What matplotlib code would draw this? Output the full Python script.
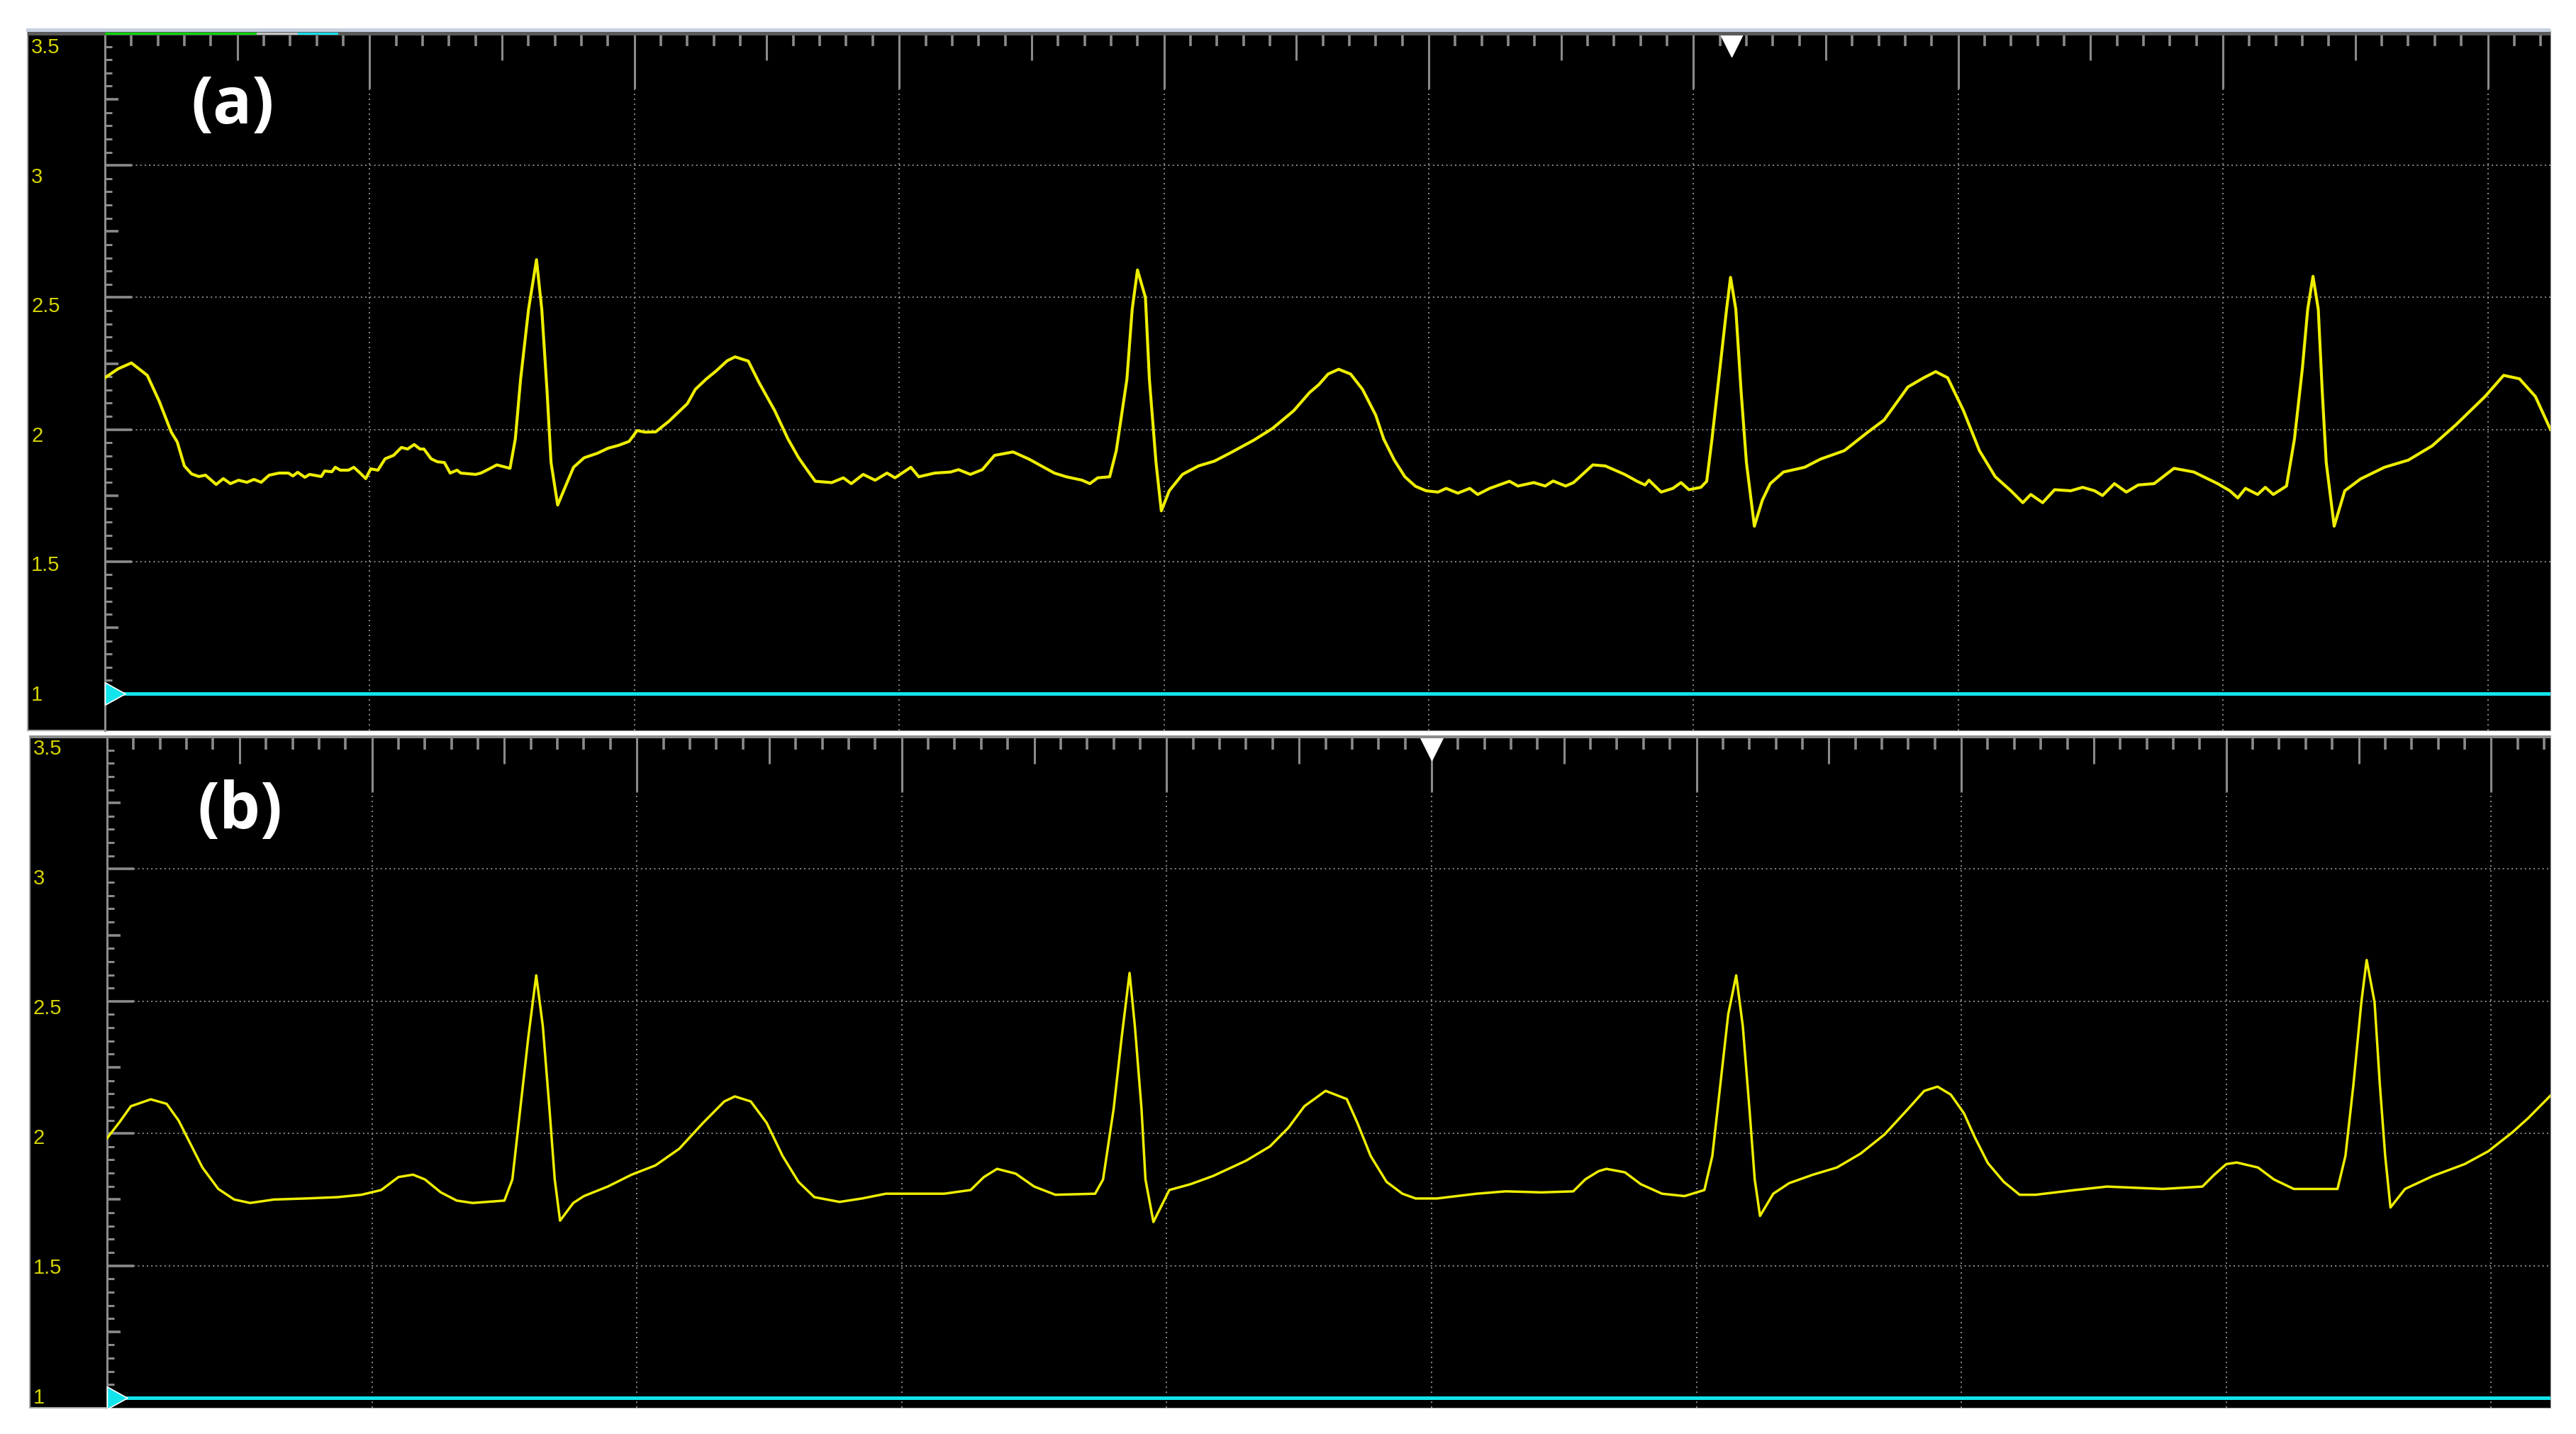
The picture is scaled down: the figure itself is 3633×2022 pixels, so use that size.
import numpy as np
import matplotlib
matplotlib.use("Agg")
import matplotlib.pyplot as plt
from matplotlib.patches import Rectangle
from matplotlib.transforms import blended_transform_factory

W, H = 3633, 2022

# x in screen divisions, y in volts
a_t = [0.00, 0.05, 0.10, 0.16, 0.205, 0.25,
       0.273, 0.30, 0.327, 0.354, 0.38, 0.42, 0.447, 0.474, 0.505, 0.536, 0.563, 0.59, 0.62, 0.657, 0.693, 0.71,
       0.728, 0.755, 0.773, 0.817, 0.83, 0.857, 0.87, 0.889, 0.92, 0.94, 0.964, 0.985, 1.004, 1.031, 1.058, 1.09,
       1.12, 1.143, 1.168, 1.19, 1.205, 1.232, 1.255, 1.282, 1.304, 1.33, 1.344,
       1.40, 1.42, 1.45, 1.48, 1.53, 1.55, 1.57, 1.60, 1.63, 1.65, 1.67, 1.685, 1.71, 1.74, 1.77, 1.81, 1.86,
       1.90, 1.94, 1.98, 2.01, 2.04, 2.08, 2.13, 2.20, 2.23, 2.27, 2.31, 2.35, 2.38, 2.43, 2.47, 2.53, 2.58,
       2.62, 2.65,
       2.683, 2.745, 2.789, 2.819, 2.864, 2.909, 2.954, 2.984, 3.044, 3.074, 3.134, 3.194, 3.224, 3.269, 3.314,
       3.36, 3.43, 3.49, 3.586, 3.631, 3.691, 3.72, 3.75, 3.795,
       3.82, 3.86, 3.88, 3.90, 3.93, 3.945, 3.97, 3.99, 4.02, 4.07, 4.13, 4.19, 4.25, 4.34, 4.41, 4.49, 4.55,
       4.585, 4.62, 4.66, 4.705, 4.75, 4.80, 4.83, 4.87, 4.91, 4.95,
       4.99, 5.035, 5.066, 5.11, 5.155, 5.185, 5.23, 5.305, 5.337, 5.397, 5.44, 5.47, 5.517, 5.547, 5.62, 5.667,
       5.74, 5.787, 5.817, 5.832, 5.878, 5.922, 5.953, 5.983, 6.028, 6.05,
       6.07, 6.10, 6.125, 6.14, 6.16, 6.18, 6.20, 6.23, 6.26, 6.29, 6.34, 6.42, 6.48, 6.57, 6.66, 6.72, 6.81,
       6.87, 6.915, 6.96, 7.02, 7.08, 7.14,
       7.199, 7.244, 7.274, 7.319, 7.364, 7.425, 7.47, 7.515, 7.545, 7.59, 7.635, 7.68, 7.74, 7.815, 7.89, 7.98,
       8.026, 8.056, 8.085, 8.131, 8.16, 8.19, 8.24,
       8.27, 8.30, 8.32, 8.34, 8.36, 8.375, 8.39, 8.42, 8.46, 8.52, 8.61, 8.70, 8.79, 8.88, 8.99, 9.06, 9.12,
       9.18, 9.237]
a_v = [2.196, 2.23, 2.252, 2.205, 2.107, 1.991,
       1.953, 1.862, 1.832, 1.822, 1.827, 1.792, 1.814, 1.795, 1.808, 1.80, 1.811, 1.80, 1.827, 1.835, 1.835, 1.824,
       1.838, 1.819, 1.83, 1.822, 1.843, 1.84, 1.857, 1.846, 1.846, 1.857, 1.835, 1.814, 1.851, 1.846, 1.889, 1.902,
       1.932, 1.926, 1.943, 1.926, 1.926, 1.889, 1.878, 1.875, 1.835, 1.846, 1.835,
       1.83, 1.835, 1.85, 1.866, 1.853, 1.964, 2.19, 2.455, 2.643, 2.455, 2.143, 1.875, 1.714, 1.786, 1.857, 1.893, 1.91,
       1.929, 1.94, 1.955, 1.996, 1.99, 1.991, 2.031, 2.098, 2.152, 2.19, 2.223, 2.26, 2.275, 2.259, 2.179, 2.071, 1.964,
       1.893, 1.85,
       1.804, 1.799, 1.817, 1.795, 1.83, 1.808, 1.835, 1.817, 1.857, 1.821, 1.835, 1.839, 1.848, 1.83, 1.848,
       1.902, 1.915, 1.888, 1.835, 1.821, 1.808, 1.795, 1.817, 1.821,
       1.92, 2.19, 2.455, 2.604, 2.50, 2.19, 1.875, 1.692, 1.768, 1.83, 1.862, 1.88, 1.911, 1.96, 2.004, 2.071, 2.14,
       2.17, 2.21, 2.228, 2.21, 2.152, 2.054, 1.964, 1.884, 1.821, 1.785,
       1.768, 1.763, 1.777, 1.759, 1.777, 1.754, 1.777, 1.804, 1.786, 1.799, 1.786, 1.805, 1.786, 1.799, 1.866, 1.862,
       1.83, 1.804, 1.79, 1.808, 1.763, 1.777, 1.799, 1.772, 1.781, 1.804,
       1.964, 2.232, 2.455, 2.576, 2.455, 2.143, 1.875, 1.634, 1.732, 1.795, 1.839, 1.857, 1.888, 1.92, 1.991, 2.036, 2.161,
       2.196, 2.219, 2.196, 2.071, 1.92, 1.821,
       1.768, 1.723, 1.754, 1.723, 1.772, 1.768, 1.781, 1.768, 1.75, 1.795, 1.763, 1.79, 1.795, 1.853, 1.839, 1.795,
       1.768, 1.741, 1.777, 1.754, 1.781, 1.754, 1.786,
       1.964, 2.232, 2.455, 2.58, 2.455, 2.143, 1.875, 1.634, 1.768, 1.813, 1.857, 1.884, 1.938, 2.018, 2.125, 2.205, 2.192,
       2.125, 2.0]

b_t = [0.00, 0.045, 0.09, 0.165, 0.225, 0.27, 0.315, 0.36, 0.42, 0.48, 0.54, 0.63, 0.75, 0.87, 0.96, 1.035,
       1.10, 1.155, 1.20, 1.26, 1.32, 1.38, 1.50, 1.53, 1.56, 1.59, 1.62, 1.645, 1.67, 1.69, 1.71, 1.76,
       1.80, 1.89, 1.98, 2.07, 2.16, 2.25, 2.33, 2.37, 2.43, 2.49, 2.55, 2.61, 2.67, 2.765, 2.85, 2.94,
       3.16, 3.26, 3.31, 3.36, 3.43, 3.50, 3.58, 3.73, 3.76, 3.80, 3.83, 3.86, 3.88, 3.905, 3.92, 3.95,
       4.01, 4.09, 4.175, 4.30, 4.39, 4.46, 4.52, 4.60, 4.68, 4.72, 4.77, 4.83, 4.89, 4.94, 5.02, 5.17,
       5.28, 5.415, 5.535, 5.58, 5.63, 5.66, 5.73, 5.79, 5.87, 5.955, 6.03, 6.06, 6.09, 6.12, 6.15, 6.175,
       6.20, 6.22, 6.24, 6.29, 6.35, 6.44, 6.53, 6.62, 6.71, 6.80, 6.86, 6.91, 6.96, 7.01, 7.05, 7.10,
       7.16, 7.22, 7.28, 7.43, 7.55, 7.76, 7.91, 7.955, 8.00, 8.04, 8.12, 8.18, 8.255, 8.42, 8.45, 8.48,
       8.51, 8.53, 8.56, 8.58, 8.60, 8.62, 8.675, 8.78, 8.90, 8.99, 9.08, 9.14, 9.224]
b_v = [1.982, 2.04, 2.103, 2.129, 2.112, 2.049, 1.96, 1.871, 1.79, 1.75, 1.737, 1.75, 1.754, 1.759, 1.768, 1.786,
       1.835, 1.844, 1.826, 1.777, 1.746, 1.737, 1.746, 1.826, 2.094, 2.362, 2.598, 2.406, 2.094, 1.826, 1.67, 1.737,
       1.763, 1.799, 1.844, 1.879, 1.942, 2.04, 2.121, 2.14, 2.121, 2.04, 1.915, 1.817, 1.759, 1.741, 1.754, 1.772,
       1.772, 1.786, 1.835, 1.866, 1.848, 1.799, 1.768, 1.772, 1.826, 2.094, 2.362, 2.607, 2.406, 2.094, 1.826, 1.665,
       1.786, 1.808, 1.839, 1.897, 1.951, 2.022, 2.103, 2.161, 2.13, 2.04, 1.915, 1.817, 1.772, 1.754, 1.754, 1.772,
       1.781, 1.777, 1.781, 1.826, 1.857, 1.866, 1.853, 1.808, 1.772, 1.763, 1.786, 1.915, 2.183, 2.451, 2.598, 2.406,
       2.094, 1.826, 1.688, 1.772, 1.812, 1.844, 1.871, 1.924, 1.996, 2.094, 2.161, 2.177, 2.147, 2.076, 1.987, 1.888,
       1.817, 1.768, 1.768, 1.786, 1.799, 1.79, 1.799, 1.844, 1.884, 1.89, 1.871, 1.826, 1.79, 1.79, 1.915, 2.183,
       2.496, 2.656, 2.496, 2.183, 1.915, 1.72, 1.79, 1.839, 1.884, 1.933, 2.004, 2.058, 2.143]

ref_t = [0.0, 9.24]
ref_v = [1.0, 1.0]

y_labels = ["3.5", "3", "2.5", "2", "1.5", "1"]
trig_pos = [6.145, 5.0]
names = ["(a)", "(b)"]

YELLOW = "#eeee00"
CYAN = "#12e4ec"
GRID = "#8a8a8a"
TICK = "#8a8a8a"


def fx(px):
    return px / W


def fy(py):
    return 1 - py / H


fig = plt.figure(figsize=(W / 100, H / 100), dpi=100)
fig.patch.set_facecolor("white")

# pixel layout of the two scope screens
panels = [
    dict(box=(39, 44, 3597, 1030), area=(148, 47, 3597, 1030), ylo=0.8604, xmax=9.237,
         t=a_t, v=a_v, lw=3.0, label_x=44, label_y0=53, label_dy=182.6, name_xy=(328, 150)),
    dict(box=(42, 1038, 3597, 1985), area=(151, 1039, 3597, 1985), ylo=0.9624, xmax=9.224,
         t=b_t, v=b_v, lw=2.5, label_x=47, label_y0=1042, label_dy=183.0, name_xy=(338, 1145)),
]

for i, p in enumerate(panels):
    x0, y0, x1, y1 = p["box"]
    bg = Rectangle((fx(x0), fy(y1)), fx(x1) - fx(x0), fy(y0) - fy(y1), transform=fig.transFigure,
                   facecolor="black", edgecolor="#a8a8a8", lw=1.5, zorder=-5)
    fig.patches.append(bg)

    ax0, ay0, ax1, ay1 = p["area"]
    axw, axh = ax1 - ax0, ay1 - ay0
    ax = fig.add_axes([fx(ax0), fy(ay1), fx(ax1) - fx(ax0), fy(ay0) - fy(ay1)])
    ax.set_facecolor("black")
    ax.set_xlim(0, p["xmax"])
    ax.set_ylim(p["ylo"], 3.5)
    ax.set_xticks([])
    ax.set_yticks([])
    for s in ["top", "right", "bottom"]:
        ax.spines[s].set_visible(False)
    ax.spines["left"].set_color("#8c8c8c")
    ax.spines["left"].set_linewidth(2.2)

    # dotted graticule
    for g in [1.5, 2.0, 2.5, 3.0]:
        ax.axhline(g, color=GRID, lw=1.4, ls=(0, (1.0, 2.2)), zorder=1)
    for d in range(1, 10):
        ax.axvline(d, color=GRID, lw=1.4, ls=(0, (1.0, 2.6)), zorder=1)

    # left ruler ticks
    ytr = blended_transform_factory(ax.transAxes, ax.transData)
    vals = np.round(np.arange(1.0, 3.5001, 0.05), 2)
    for v in vals:
        k = int(round(v * 20))
        if k % 10 == 0:
            ln, lw = 38, 2.6
        elif k % 5 == 0:
            ln, lw = 19, 2.6
        else:
            ln, lw = 10, 2.2
        ax.plot([0, ln / axw], [v, v], transform=ytr, color=TICK, lw=lw, solid_capstyle="butt", zorder=2)

    # top ruler ticks
    xtr = blended_transform_factory(ax.transData, ax.transAxes)
    for k in range(1, int(p["xmax"] * 10) + 1):
        d = k / 10
        if k % 10 == 0:
            ln, lw = 78, 2.2
        elif k % 5 == 0:
            ln, lw = 38, 2.2
        else:
            ln, lw = 18, 2.6
        ax.plot([d, d], [1, 1 - ln / axh], transform=xtr, color=TICK, lw=lw, solid_capstyle="butt", zorder=2)

    # traces
    ax.plot(ref_t, ref_v, color=CYAN, lw=3.6, solid_capstyle="butt", zorder=3)
    ax.plot(p["t"], p["v"], color=YELLOW, lw=p["lw"], zorder=4)

    # ground reference marker
    gnd = [(0, -0.5), (0, 0.5), (0.9, 0), (0, -0.5)]
    ax.plot([0], [1.0], marker=gnd, ms=41, color=CYAN, mec="white", mew=1.2, clip_on=False, zorder=5)

    # trigger position marker
    ax.plot([trig_pos[i]], [1 - 16 / axh], transform=xtr, marker="v", ms=24, color="white",
            mec="white", clip_on=False, zorder=5)

    # volt labels
    for k, s in enumerate(y_labels):
        t = fig.text(fx(p["label_x"]), fy(p["label_y0"] + k * p["label_dy"]), s, ha="left", va="top",
                     color="#d6d400", fontsize=21, family="Liberation Sans")
        t.set_clip_path(bg)

    fig.text(fx(p["name_xy"][0]), fy(p["name_xy"][1]), names[i], ha="center", va="center",
             color="white", fontsize=66, fontweight="bold", family="Open Sans")

# top header strip of panel (a)
fig.patches.append(Rectangle((fx(37), fy(45)), fx(3597) - fx(37), fy(40) - fy(45), transform=fig.transFigure,
                             facecolor="#c6d0e0", edgecolor="none", zorder=1))
fig.patches.append(Rectangle((fx(39), fy(50)), fx(3597) - fx(39), fy(45) - fy(50), transform=fig.transFigure,
                             facecolor="#5a5a5a", edgecolor="none", zorder=1))
for c0, c1, col in [(148, 362, "#00d800"), (362, 420, "#c4c4c4"), (420, 477, "#18e0f0")]:
    fig.patches.append(Rectangle((fx(c0), fy(49)), fx(c1) - fx(c0), fy(46) - fy(49), transform=fig.transFigure,
                                 facecolor=col, edgecolor="none", zorder=2))
# top border of panel (b)
fig.patches.append(Rectangle((fx(42), fy(1041)), fx(3597) - fx(42), fy(1037) - fy(1041), transform=fig.transFigure,
                             facecolor="#8c8c8c", edgecolor="none", zorder=1))

fig.savefig("out.png", dpi=100, facecolor="white")
